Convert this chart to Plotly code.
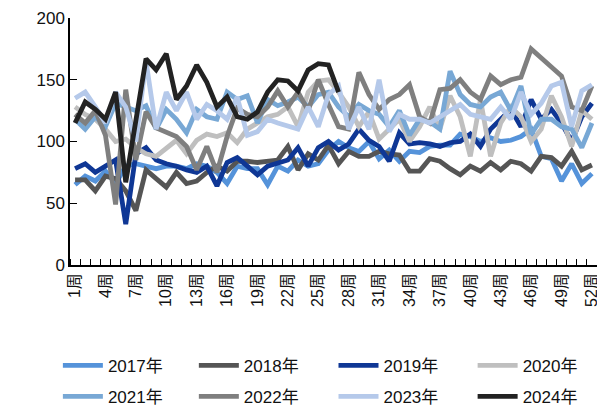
import plotly.graph_objects as go

# week numbers and x tick labels
weeks = list(range(1, 53))
tick_weeks = list(range(1, 53, 3))
tick_text = [f"{w}周" for w in tick_weeks]

years = ["2017年", "2018年", "2019年", "2020年", "2021年", "2022年", "2023年", "2024年"]

y2017 = [65, 72, 68, 76, 66, 80, 82, 80, 78, 80, 80, 78, 82, 80, 75, 66, 80, 78, 78, 65,
         80, 76, 85, 80, 82, 93, 100, 95, 92, 100, 86, 93, 84, 92, 91, 96, 97, 97, 106, 104,
         100, 103, 100, 101, 104, 110, 88, 86, 68, 82, 66, 74]
y2018 = [69, 69, 60, 72, 70, 60, 44, 77, 70, 63, 75, 66, 68, 75, 80, 76, 84, 84, 83, 84,
         85, 96, 77, 90, 85, 97, 82, 92, 88, 88, 92, 90, 89, 76, 76, 86, 84, 78, 73, 80,
         76, 83, 77, 84, 82, 76, 88, 87, 80, 92, 77, 81]
y2019 = [78, 82, 75, 80, 85, 33, 90, 95, 85, 82, 80, 77, 75, 80, 64, 83, 87, 80, 73, 80,
         83, 85, 95, 80, 95, 100, 93, 98, 110, 101, 96, 84, 107, 98, 99, 98, 96, 99, 100, 106,
         96, 110, 118, 126, 112, 134, 118, 126, 115, 100, 120, 131]
y2020 = [128, 122, 118, 110, 100, 102, 95, 90, 88, 95, 101, 90, 101, 106, 104, 107, 99, 110, 115, 120,
         122, 128, 112, 140, 149, 150, 140, 128, 112, 124, 102, 110, 118, 100, 112, 128, 110, 137, 120, 88,
         134, 88, 115, 128, 120, 100, 110, 137, 120, 96, 125, 118]
y2021 = [118, 110, 120, 112, 131, 128, 125, 129, 110, 126, 118, 107, 126, 120, 118, 140, 134, 137, 115, 134,
         129, 132, 136, 128, 138, 140, 128, 120, 130, 125, 122, 112, 125, 105, 118, 116, 110, 157, 138, 130,
         128, 136, 140, 125, 145, 106, 118, 118, 112, 110, 95, 115]
y2022 = [122, 115, 125, 105, 49, 142, 85, 124, 111, 108, 104, 96, 77, 96, 75, 104, 127, 122, 120, 128,
         141, 128, 140, 125, 150, 130, 112, 110, 156, 138, 126, 134, 138, 146, 120, 115, 142, 143, 150, 140,
         134, 153, 146, 150, 152, 175, 168, 160, 153, 128, 125, 145]
y2023 = [135, 140, 128, 115, 140, 128, 100, 165, 110, 140, 125, 140, 118, 130, 125, 118, 136, 105, 108, 118,
         115, 112, 110, 128, 112, 138, 145, 110, 128, 110, 150, 108, 122, 118, 118, 115, 120, 125, 130, 122,
         120, 118, 128, 118, 140, 122, 131, 145, 148, 112, 141, 146]
y2024 = [115, 132, 126, 118, 140, 67, 117, 167, 158, 171, 134, 145, 162, 148, 128, 136, 120, 118, 124, 140,
         150, 149, 141, 158, 163, 162, 140]

series = [y2017, y2018, y2019, y2020, y2021, y2022, y2023, y2024]
colors = ["#5593DA", "#555555", "#0F3795", "#BFBFBF", "#78A8D5", "#7F7F7F", "#B5C9EA", "#222222"]

font_family = "Arial, Liberation Sans, Noto Sans CJK SC, sans-serif"

# one small legend per column so the 4 x 2 grid keeps its spacing
legend_names = ["legend", "legend2", "legend3", "legend4"]
legend_x = [-0.023, 0.235, 0.500, 0.764]

fig = go.Figure()
for i, (name, vals, col) in enumerate(zip(years, series, colors)):
    fig.add_trace(go.Scatter(
        x=weeks[:len(vals)], y=vals, name=name, mode="lines",
        line=dict(color=col, width=4.8),
        legend=legend_names[i % 4], legendgroup=name,
    ))

layout_legends = {}
for lname, lx in zip(legend_names, legend_x):
    layout_legends[lname] = dict(
        orientation="v", x=lx, xanchor="left", y=-0.335, yanchor="top",
        font=dict(size=17), itemwidth=40, tracegroupgap=6, bgcolor="rgba(0,0,0,0)",
    )

# the page adds an 8px body margin, so the figure is 8px smaller each way
fig.update_layout(
    width=597, height=406,
    margin=dict(l=62, r=8, t=10, b=149, autoexpand=False),
    paper_bgcolor="white", plot_bgcolor="white",
    font=dict(family=font_family, size=17, color="#111111"),
    showlegend=True,
    xaxis=dict(
        range=[0.5, 52.5], tickmode="array", tickvals=tick_weeks, ticktext=tick_text,
        tickangle=-90, ticks="", showline=True, linecolor="black", linewidth=1.5,
        showgrid=False, zeroline=False, tickfont=dict(size=16),
        minor=dict(ticks="inside", tick0=0.5, dtick=1, ticklen=6, tickcolor="black", showgrid=False),
    ),
    yaxis=dict(
        range=[0, 200], tickvals=[0, 50, 100, 150, 200], ticks="inside", ticklen=7,
        tickcolor="black", showline=True, linecolor="black", linewidth=1.5,
        showgrid=False, zeroline=False, ticksuffix="\u2007\u200a", tickfont=dict(size=17),
    ),
    **layout_legends,
)

fig.write_html("out.html")
